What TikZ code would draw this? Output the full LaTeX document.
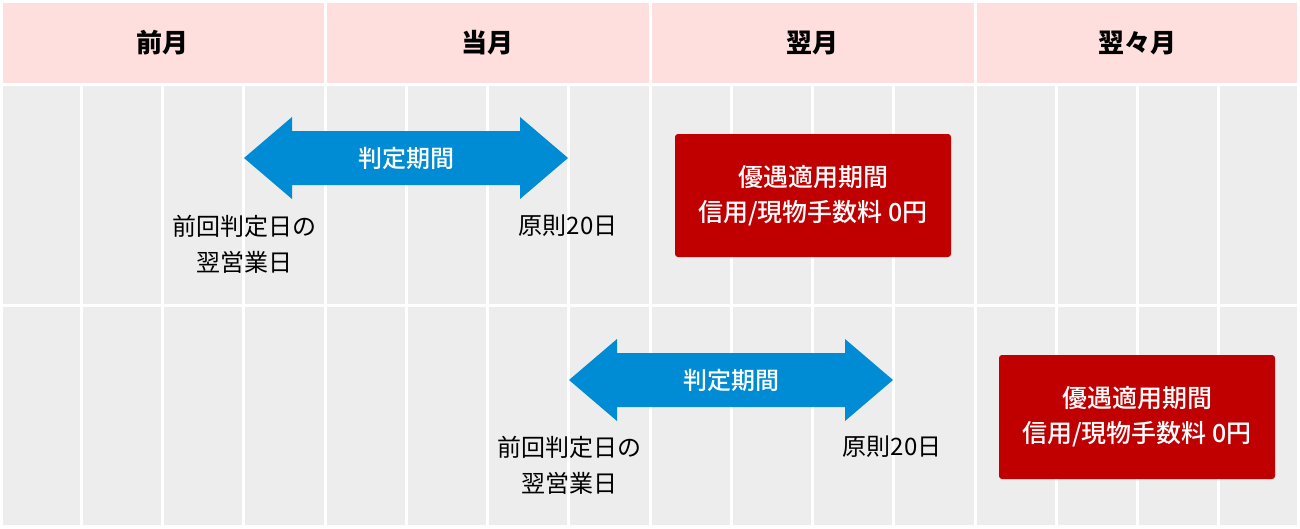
\documentclass[tikz,border=0pt]{standalone}
\usepackage{fontspec}
\setmainfont{Noto Sans CJK JP}
\newfontfamily\mediumfont{Noto Sans CJK JP Medium}
\usetikzlibrary{calc}
\definecolor{hdrpink}{HTML}{FFDEDE}
\definecolor{cellgrey}{HTML}{EDEDED}
\definecolor{arrowblue}{HTML}{008BD5}
\definecolor{boxred}{HTML}{C00000}
\tikzset{
  hdrtext/.style={font=\fontsize{26}{30}\selectfont\bfseries, text=black},
  lbltext/.style={font=\fontsize{24}{36}\selectfont, text=black, align=center},
  arrtext/.style={font=\fontsize{24}{30}\selectfont\mediumfont, text=white},
  redbox/.style={fill=boxred, rounded corners=3pt, text=white, align=center,
    font=\fontsize{25}{35}\selectfont\mediumfont},
  sep/.style={white, line width=3pt},
}
\begin{document}
\begin{tikzpicture}[x=1pt,y=-1pt]
\useasboundingbox[fill=white] (0,0) rectangle (1300,528);
% header and rows
\fill[hdrpink] (3,3) rectangle (1297,82.5);
\fill[cellgrey] (3,85.5) rectangle (1297,303.5);
\fill[cellgrey] (3,306.5) rectangle (1297,525);
\foreach \i in {1,...,15} {
  \draw[sep] (81.25*\i,85) -- (81.25*\i,525);
}
\foreach \i in {1,2,3} {
  \draw[sep] (325*\i,0) -- (325*\i,83);
}
% headers
\node[hdrtext] (h1) at (162.5,43) {前月};
\node[hdrtext] (h2) at (487.5,43) {当月};
\node[hdrtext] (h3) at (812.5,43) {翌月};
\node[hdrtext] (h4) at (1137.5,43) {翌々月};
% row 1
\coordinate (s1) at (244,158);
\coordinate (e1) at (568,158);
\fill[arrowblue] (s1) -- ++(48,-41) -- ++(0,14) -- ($(e1)+(-48,-27)$) -- ++(0,-14) -- (e1)
  -- ++(-48,41) -- ++(0,-14) -- ($(s1)+(48,27)$) -- ++(0,14) -- cycle;
\node[arrtext] (t1) at ($(s1)!0.5!(e1)$) {判定期間};
\node[lbltext] (l1) at (244,244) {前回判定日の\\翌営業日};
\node[lbltext] (r1) at (568,226) {原則20日};
\node[redbox, minimum width=276pt, minimum height=123pt] (b1) at (813,195.5)
  {優遇適用期間\\信用/現物手数料 0円};
% row 2
\coordinate (s2) at (569,380);
\coordinate (e2) at (893,380);
\fill[arrowblue] (s2) -- ++(48,-41) -- ++(0,14) -- ($(e2)+(-48,-27)$) -- ++(0,-14) -- (e2)
  -- ++(-48,41) -- ++(0,-14) -- ($(s2)+(48,27)$) -- ++(0,14) -- cycle;
\node[arrtext] (t2) at ($(s2)!0.5!(e2)$) {判定期間};
\node[lbltext] (l2) at (569,465) {前回判定日の\\翌営業日};
\node[lbltext] (r2) at (892,447) {原則20日};
\node[redbox, minimum width=276pt, minimum height=124pt] (b2) at (1137,417)
  {優遇適用期間\\信用/現物手数料 0円};
\end{tikzpicture}
\end{document}
